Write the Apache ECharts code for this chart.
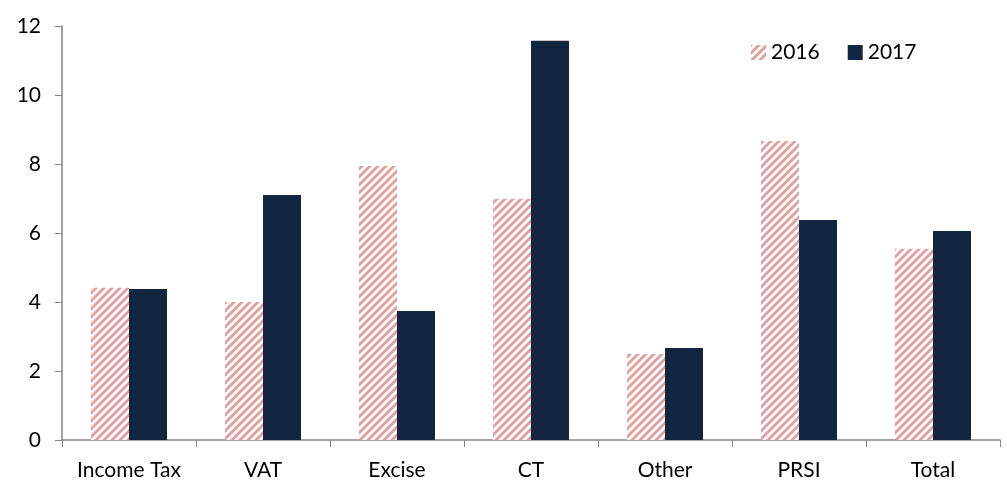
<!DOCTYPE html>
<html>
<head>
<meta charset="utf-8">
<script src="https://cdn.jsdelivr.net/npm/echarts@6/dist/echarts.min.js"></script>
<style>
  html, body { margin: 0; padding: 0; background: #fff; }
  #chart { width: 1007px; height: 484px; }
</style>
</head>
<body>
<div id="chart"></div>
<script>
const categories = ['Income Tax', 'VAT', 'Excise', 'CT', 'Other', 'PRSI', 'Total'];
const values2016 = [4.41, 4.0, 7.94, 6.99, 2.49, 8.67, 5.54];
const values2017 = [4.38, 7.1, 3.74, 11.57, 2.67, 6.38, 6.06];

// diagonal hatch for 2016
function hatch() {
  const c = document.createElement('canvas');
  c.width = 8; c.height = 8;
  const ctx = c.getContext('2d');
  ctx.fillStyle = '#ffffff';
  ctx.fillRect(0, 0, 8, 8);
  ctx.strokeStyle = '#e2a0a0';
  ctx.lineWidth = 3;
  ctx.beginPath();
  ctx.moveTo(-2, 10); ctx.lineTo(10, -2);
  ctx.moveTo(-6, 6); ctx.lineTo(6, -6);
  ctx.moveTo(2, 14); ctx.lineTo(14, 2);
  ctx.stroke();
  return c;
}
const pattern = { image: hatch(), repeat: 'repeat' };

const chart = echarts.init(document.getElementById('chart'));
const font = 'Lato';
chart.setOption({
  animation: false,
  textStyle: { fontFamily: font },
  grid: { left: 62, right: 7, top: 26, bottom: 44 },
  legend: {
    left: 746, top: 37,
    itemWidth: 15, itemHeight: 15, itemGap: 28,
    icon: 'rect',
    textStyle: { fontSize: 21, color: '#000', fontFamily: font },
    data: ['2016', '2017']
  },
  xAxis: {
    type: 'category',
    data: categories,
    axisLine: { lineStyle: { color: '#868686', width: 1.5 } },
    axisTick: { show: true, interval: 0, length: 7, lineStyle: { color: '#868686' } },
    axisLabel: { interval: 0, fontSize: 21, color: '#000', margin: 20, fontFamily: font }
  },
  yAxis: {
    type: 'value',
    min: 0, max: 12, interval: 2,
    splitLine: { show: false },
    axisLine: { show: true, lineStyle: { color: '#868686', width: 1.5 } },
    axisTick: { show: true, length: 7, lineStyle: { color: '#868686' } },
    axisLabel: { fontSize: 21, color: '#000', margin: 21, fontFamily: font }
  },
  series: [
    {
      name: '2016', type: 'bar', data: values2016,
      barWidth: 38, barGap: '0%',
      itemStyle: { color: pattern }
    },
    {
      name: '2017', type: 'bar', data: values2017,
      barWidth: 38,
      itemStyle: { color: '#12263f' }
    }
  ]
});
</script>
</body>
</html>
